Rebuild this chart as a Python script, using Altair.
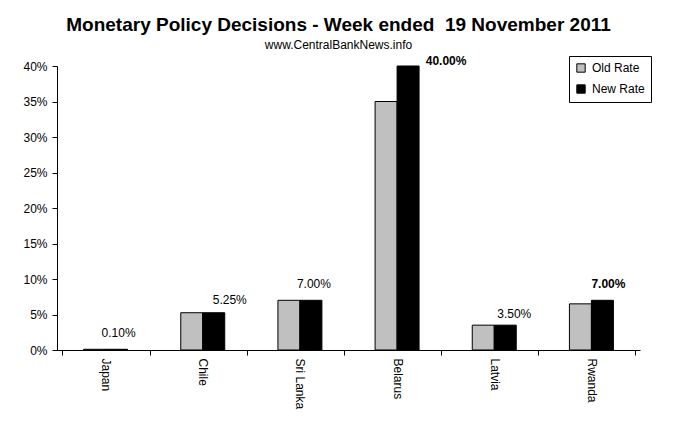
import altair as alt
import pandas as pd

countries = ["Japan", "Chile", "Sri Lanka", "Belarus", "Latvia", "Rwanda"]
old_rate = [0.10, 5.25, 7.00, 35.00, 3.50, 6.50]
new_rate = [0.10, 5.25, 7.00, 40.00, 3.50, 7.00]
series = ["Old Rate", "New Rate"]
y_ticks = [0, 5, 10, 15, 20, 25, 30, 35, 40]

rows = []
for c, o, n in zip(countries, old_rate, new_rate):
    rows.append({"country": c, "series": "Old Rate", "rate": o / 100})
    rows.append({"country": c, "series": "New Rate", "rate": n / 100})
bars_df = pd.DataFrame(rows)

labels_df = pd.DataFrame({
    "country": countries,
    "series": ["New Rate"] * len(countries),
    "rate": [n / 100 for n in new_rate],
    "label": [f"{n:.2f}%" for n in new_rate],
    "changed": [o != n for o, n in zip(old_rate, new_rate)],
})

FONT = "Liberation Sans"

# label placement tweaks (pixel offsets from the top of each new-rate bar)
label_offsets = {
    "Japan": (2, -12), "Chile": (16, -9), "Sri Lanka": (3, -12),
    "Belarus": (38, -1), "Latvia": (9, -7), "Rwanda": (6, -12),
}

x = alt.X(
    "country:N", sort=countries,
    scale=alt.Scale(paddingInner=0.0947, paddingOuter=0.0473),
    axis=alt.Axis(title=None, labelAngle=90, tickBand="extent", tickSize=5,
                  labelPadding=3, domainColor="black", tickColor="black",
                  labelColor="black", labelFontSize=12, labelFont=FONT, grid=False),
)
xoff = alt.XOffset("series:N", sort=series,
                   scale=alt.Scale(domain=series, paddingOuter=1, paddingInner=0))
y = alt.Y(
    "rate:Q",
    scale=alt.Scale(domain=[0, 0.40], nice=False),
    axis=alt.Axis(title=None, values=[v / 100 for v in y_ticks], format=".0%",
                  tickSize=5, labelPadding=5, grid=False, domainColor="black",
                  tickColor="black", labelColor="black", labelFontSize=12,
                  labelFont=FONT),
)

bars = alt.Chart(bars_df).mark_bar(stroke="black", strokeWidth=1).encode(
    x=x, xOffset=xoff, y=y,
    color=alt.Color(
        "series:N", sort=series,
        scale=alt.Scale(domain=series, range=["#C0C0C0", "#000000"]),
        legend=alt.Legend(
            title=None, orient="none", legendX=512, legendY=-10,
            symbolType="square", symbolSize=70, symbolStrokeColor="black",
            symbolStrokeWidth=1, labelFontSize=12, labelFont=FONT,
            labelColor="black", strokeColor="black", fillColor="white",
            padding=6, rowPadding=7, labelOffset=5,
        ),
    ),
)

layers = [bars]
for c, ch in zip(countries, labels_df["changed"]):
    dx, dy = label_offsets[c]
    layers.append(
        alt.Chart(labels_df).transform_filter(alt.datum.country == c).mark_text(
            baseline="alphabetic", dx=dx, dy=dy, fontSize=12, font=FONT,
            fontWeight="bold" if ch else "normal", color="black",
        ).encode(x=x, xOffset=xoff, y=y, text="label:N")
    )

chart = alt.layer(*layers).properties(
    width=583, height=284,
    autosize=alt.AutoSizeParams(type="none"),
    padding={"left": 49, "top": 58, "right": 43, "bottom": 76},
    view=alt.ViewBackground(strokeWidth=0, stroke="transparent"),
    title=alt.TitleParams(
        text="Monetary Policy Decisions - Week ended\u00a0 19 November 2011",
        subtitle="www.CentralBankNews.info",
        font=FONT, fontSize=19, fontWeight="bold", color="black",
        subtitleFont=FONT, subtitleFontSize=12, subtitleColor="black",
        anchor="middle", dx=-10, offset=4, subtitlePadding=5,
    ),
).configure_view(stroke="transparent", strokeWidth=0).configure_axis(grid=False).configure(background="white")

chart.save("out.html", embed_options={"renderer": "svg", "actions": False})
